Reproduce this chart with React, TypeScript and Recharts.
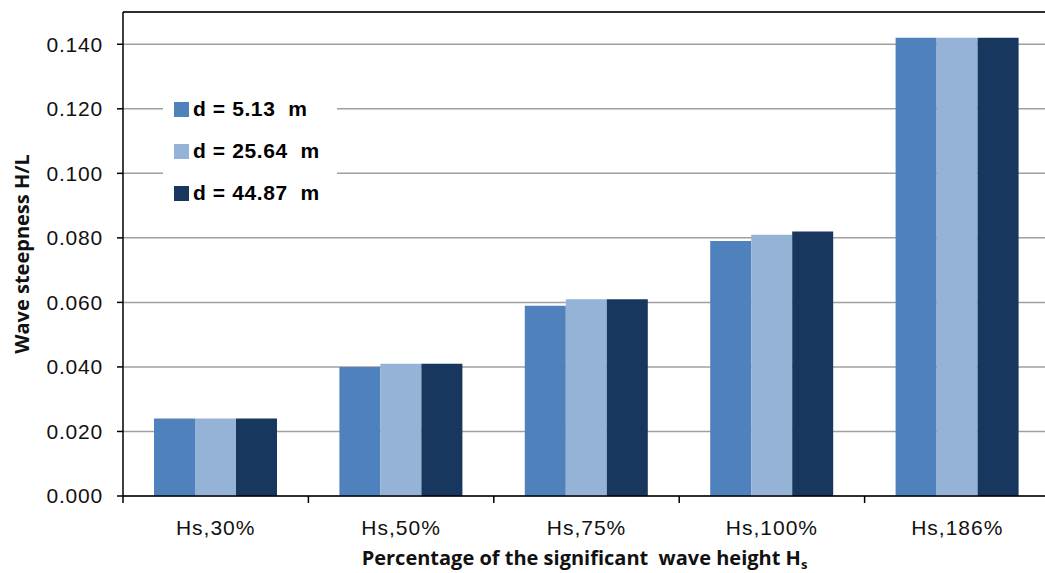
import React from 'react';
import { BarChart, Bar, XAxis, YAxis, CartesianGrid, Legend, ReferenceLine, Label } from 'recharts';

const categories = ['Hs,30%', 'Hs,50%', 'Hs,75%', 'Hs,100%', 'Hs,186%'];
const depth513 = [0.024, 0.040, 0.059, 0.079, 0.142];
const depth2564 = [0.024, 0.041, 0.061, 0.081, 0.142];
const depth4487 = [0.024, 0.041, 0.061, 0.082, 0.142];
const yTicks = [0, 0.02, 0.04, 0.06, 0.08, 0.1, 0.12, 0.14];

const series = [
  { key: 'd1', name: 'd = 5.13  m', color: '#4F81BD' },
  { key: 'd2', name: 'd = 25.64  m', color: '#95B3D7' },
  { key: 'd3', name: 'd = 44.87  m', color: '#17375E' },
];

const data = categories.map((c, i) => ({
  cat: c,
  d1: depth513[i],
  d2: depth2564[i],
  d3: depth4487[i],
}));

const FONT = '"Liberation Sans", Arial, sans-serif';
const TITLE_FONT = '"Open Sans", sans-serif';

const XTick = (props: any) => {
  const { x, y, payload } = props;
  const half = payload && payload.offset ? payload.offset : 92.75;
  return (
    <g>
      <line x1={x - half} y1={y} x2={x - half} y2={y + 7} stroke="#000" strokeWidth={1.5} />
      <text x={x} y={y + 39} textAnchor="middle" fontFamily={FONT} fontSize={21} letterSpacing={1} fill="#111">
        {payload.value}
      </text>
    </g>
  );
};

const LegendBox = () => (
  <div style={{ background: '#fff', width: 174, paddingLeft: 11, boxSizing: 'border-box' }}>
    {series.map((s) => (
      <div key={s.key} style={{ height: 42, display: 'flex', alignItems: 'center' }}>
        <span style={{ width: 15, height: 15, background: s.color, display: 'inline-block', marginRight: 4 }} />
        <span style={{ fontFamily: FONT, fontWeight: 'bold', fontSize: 21, letterSpacing: 0.6, color: '#000', whiteSpace: 'pre' }}>
          {s.name}
        </span>
      </div>
    ))}
  </div>
);

export default function App() {
  return (
    <div style={{ position: 'fixed', left: 0, top: 0, width: 1045, height: 573, overflow: 'hidden', background: '#fff' }}>
      <BarChart
        width={1060}
        height={573}
        data={data}
        margin={{ top: 12, right: 10, bottom: 0, left: 1 }}
        barGap={0}
        barSize={41}
      >
        <CartesianGrid vertical={false} stroke="#a0a0a0" strokeWidth={1.5} />
        <ReferenceLine y={0.15} stroke="#000" strokeWidth={1.5} />
        <XAxis
          dataKey="cat"
          height={77}
          tickLine={false}
          tickSize={0}
          tickMargin={0}
          axisLine={{ stroke: '#000', strokeWidth: 1.5 }}
          tick={<XTick />}
          interval={0}
        >
          <Label
            content={(p: any) => {
              const vb = p.viewBox || { x: 123, y: 496, width: 927 };
              return (
                <text
                  x={vb.x + vb.width / 2 - 2}
                  y={vb.y + 69}
                  textAnchor="middle"
                  fontFamily={TITLE_FONT}
                  fontWeight="bold"
                  fontSize={20}
                  fill="#111"
                  style={{ whiteSpace: 'pre' }}
                >
                  Percentage of the significant  wave height H
                  <tspan fontSize={13} dy={4}>s</tspan>
                </text>
              );
            }}
          />
        </XAxis>
        <YAxis
          width={122}
          domain={[0, 0.15]}
          ticks={yTicks}
          interval={0}
          tickFormatter={(v: number) => v.toFixed(3)}
          tickSize={6}
          tickMargin={14}
          tickLine={{ stroke: '#000', strokeWidth: 1.5 }}
          axisLine={{ stroke: '#000', strokeWidth: 1.5 }}
          tick={{ fontFamily: FONT, fontSize: 21, fill: '#111', letterSpacing: 0.8 }}
        >
          <Label
            content={(p: any) => {
              const vb = p.viewBox || { x: 0, y: 12, height: 484 };
              const cy = vb.y + vb.height / 2;
              return (
                <text
                  x={29}
                  y={cy}
                  transform={`rotate(-90 29 ${cy})`}
                  textAnchor="middle"
                  fontFamily={TITLE_FONT}
                  fontWeight="bold"
                  fontSize={20}
                  fill="#111"
                >
                  Wave steepness H/L
                </text>
              );
            }}
          />
        </YAxis>
        <Legend
          layout="vertical"
          align="center"
          verticalAlign="middle"
          wrapperStyle={{ left: 163, top: 88, width: 174 }}
          content={() => <LegendBox />}
        />
        {series.map((s) => (
          <Bar key={s.key} dataKey={s.key} name={s.name} fill={s.color} isAnimationActive={false} />
        ))}
      </BarChart>
    </div>
  );
}
